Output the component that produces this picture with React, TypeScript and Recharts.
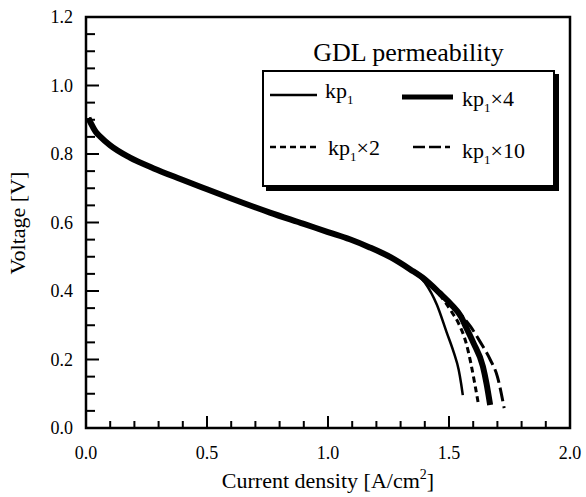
import React from 'react';
import { LineChart, Line, XAxis, YAxis, ReferenceArea } from 'recharts';

const FONT = '"Liberation Serif", "Times New Roman", Times, serif';

// shared part of all polarization curves (current density A/cm2, voltage V)
const baseCurrent = [0.01, 0.02, 0.04, 0.06, 0.1, 0.18, 0.28, 0.39, 0.5, 0.6, 0.76, 0.9, 1.0, 1.09, 1.17, 1.26, 1.34];
const baseVoltage = [0.905, 0.89, 0.865, 0.85, 0.825, 0.79, 0.758, 0.727, 0.697, 0.67, 0.629, 0.596, 0.572, 0.551, 0.528, 0.498, 0.463];

// mass transport tails for each GDL permeability
const kp1Current = [1.4, 1.45, 1.49, 1.52, 1.54, 1.55, 1.557];
const kp1Voltage = [0.425, 0.36, 0.28, 0.22, 0.17, 0.13, 0.096];
const kp2Current = [1.4, 1.46, 1.51, 1.54, 1.57, 1.59, 1.605, 1.62];
const kp2Voltage = [0.432, 0.39, 0.34, 0.305, 0.25, 0.19, 0.135, 0.076];
const kp4Current = [1.4, 1.46, 1.51, 1.55, 1.57, 1.6, 1.64, 1.655, 1.67];
const kp4Voltage = [0.434, 0.395, 0.36, 0.325, 0.295, 0.25, 0.18, 0.13, 0.067];
const kp10Current = [1.4, 1.46, 1.51, 1.55, 1.59, 1.63, 1.67, 1.7, 1.728];
const kp10Voltage = [0.435, 0.397, 0.362, 0.33, 0.295, 0.25, 0.2, 0.15, 0.058];

const xTicks = [0, 0.1, 0.2, 0.3, 0.4, 0.5, 0.6, 0.7, 0.8, 0.9, 1, 1.1, 1.2, 1.3, 1.4, 1.5, 1.6, 1.7, 1.8, 1.9, 2];
const yTicks = [0, 0.05, 0.1, 0.15, 0.2, 0.25, 0.3, 0.35, 0.4, 0.45, 0.5, 0.55, 0.6, 0.65, 0.7, 0.75, 0.8, 0.85, 0.9, 0.95, 1, 1.05, 1.1, 1.15, 1.2];

const toPoints = (xs: number[], vs: number[]) => xs.map((x, i) => ({ x, v: vs[i] }));

const series = [
  { key: 'kp1', suffix: '', current: kp1Current, voltage: kp1Voltage, width: 2.5, dash: undefined, legendDash: undefined },
  { key: 'kp4', suffix: '×4', current: kp4Current, voltage: kp4Voltage, width: 6, dash: undefined, legendDash: undefined },
  { key: 'kp2', suffix: '×2', current: kp2Current, voltage: kp2Voltage, width: 3, dash: '6 4', legendDash: '6 4' },
  { key: 'kp10', suffix: '×10', current: kp10Current, voltage: kp10Voltage, width: 3, dash: '14 5', legendDash: '12 4' },
].map(s => ({
  ...s,
  data: [...toPoints(baseCurrent, baseVoltage), ...toPoints(s.current, s.voltage)],
}));

// legend placement inside the box (px in chart coords)
const legendPos: Record<string, { lx: number; ly: number; lw: number; tx: number; ty: number }> = {
  kp1: { lx: 270, ly: 95, lw: 47, tx: 325, ty: 98 },
  kp4: { lx: 402, ly: 97, lw: 51, tx: 462, ty: 106 },
  kp2: { lx: 270, ly: 147, lw: 48, tx: 328, ty: 155 },
  kp10: { lx: 413, ly: 147, lw: 37, tx: 462, ty: 158 },
};

const isMajor = (v: number, step: number) => Math.abs(v / step - Math.round(v / step)) < 1e-6;

const textStyle = { fontFamily: FONT, fontSize: 18, fill: '#000' };

const BottomTick = (props: any) => {
  const { x, y, payload } = props;
  const major = isMajor(payload.value, 0.5);
  return (
    <g>
      <line x1={x} y1={y} x2={x} y2={y - (major ? 12 : 7)} stroke="#000" strokeWidth={2} />
      {major && (
        <text x={x} y={y + 31} textAnchor="middle" style={textStyle}>
          {payload.value.toFixed(1)}
        </text>
      )}
    </g>
  );
};

const TopTick = (props: any) => {
  const { x, y, payload } = props;
  const major = isMajor(payload.value, 0.5);
  return <line x1={x} y1={y} x2={x} y2={y + (major ? 12 : 7)} stroke="#000" strokeWidth={2} />;
};

const LeftTick = (props: any) => {
  const { x, y, payload } = props;
  const major = isMajor(payload.value, 0.2);
  return (
    <g>
      <line x1={x} y1={y} x2={x + (major ? 13 : 9)} y2={y} stroke="#000" strokeWidth={2} />
      {major && (
        <text x={x - 13} y={y + 6} textAnchor="end" style={textStyle}>
          {payload.value.toFixed(1)}
        </text>
      )}
    </g>
  );
};

const RightTick = (props: any) => {
  const { x, y, payload } = props;
  const major = isMajor(payload.value, 0.2);
  return <line x1={x} y1={y} x2={x - (major ? 13 : 9)} y2={y} stroke="#000" strokeWidth={2} />;
};

const KpLabel = ({ suffix }: { suffix: string }) => (
  <span>
    kp<sub style={{ fontSize: 13, verticalAlign: 'baseline', position: 'relative', top: 6 }}>1</sub>
    {suffix}
  </span>
);

export default function App() {
  return (
    <div style={{ position: 'absolute', left: 0, top: 0, width: 586, height: 497, background: '#fff', fontFamily: FONT }}>
      <LineChart width={586} height={497} margin={{ top: 17, right: 16, left: 0, bottom: 0 }}>
        <XAxis
          dataKey="x"
          type="number"
          domain={[0, 2]}
          ticks={xTicks}
          interval={0}
          height={69}
          tickSize={0}
          tickMargin={0}
          tickLine={false}
          tick={BottomTick}
          axisLine={false}
          allowDataOverflow
        />
        <XAxis
          xAxisId="top"
          orientation="top"
          type="number"
          domain={[0, 2]}
          ticks={xTicks}
          interval={0}
          height={0}
          tickSize={0}
          tickMargin={0}
          tickLine={false}
          tick={TopTick}
          axisLine={false}
          allowDataOverflow
        />
        <YAxis
          type="number"
          domain={[0, 1.2]}
          ticks={yTicks}
          interval={0}
          width={86}
          tickSize={0}
          tickMargin={0}
          tickLine={false}
          tick={LeftTick}
          axisLine={false}
          allowDataOverflow
        />
        <YAxis
          yAxisId="right"
          orientation="right"
          type="number"
          domain={[0, 1.2]}
          ticks={yTicks}
          interval={0}
          width={0}
          tickSize={0}
          tickMargin={0}
          tickLine={false}
          tick={RightTick}
          axisLine={false}
          allowDataOverflow
        />
        {/* plot frame */}
        <ReferenceArea
          x1={0}
          x2={2}
          y1={0}
          y2={1.2}
          fill="none"
          fillOpacity={0}
          stroke="#000"
          strokeWidth={2.5}
          strokeOpacity={1}
          ifOverflow="visible"
        />
        {series.map(s => (
          <Line
            key={s.key}
            data={s.data}
            dataKey="v"
            type="monotone"
            stroke="#000"
            strokeWidth={s.width}
            strokeDasharray={s.dash}
            dot={false}
            activeDot={false}
            isAnimationActive={false}
          />
        ))}
      </LineChart>

      {/* axis titles */}
      <div style={{ position: 'absolute', left: 86, width: 484, top: 468, textAlign: 'center', fontSize: 22, lineHeight: '26px' }}>
        Current density [A/cm<sup style={{ fontSize: 14, verticalAlign: 'baseline', position: 'relative', top: -9 }}>2</sup>]
      </div>
      <div
        style={{
          position: 'absolute',
          left: 18 - 70,
          top: 223 - 13,
          width: 140,
          height: 26,
          lineHeight: '26px',
          textAlign: 'center',
          fontSize: 22,
          transform: 'rotate(-90deg)',
        }}
      >
        Voltage [V]
      </div>

      {/* legend */}
      <div style={{ position: 'absolute', left: 262, width: 293, top: 38, textAlign: 'center', fontSize: 26, lineHeight: '30px' }}>
        GDL permeability
      </div>
      <div
        style={{
          position: 'absolute',
          left: 262,
          top: 70,
          width: 289,
          height: 113,
          border: '2px solid #000',
          boxShadow: '4px 4px 0 #000',
          background: '#fff',
        }}
      />
      {series.map(s => {
        const p = legendPos[s.key];
        return (
          <React.Fragment key={s.key}>
            <svg style={{ position: 'absolute', left: p.lx, top: p.ly - 5 }} width={p.lw} height={10}>
              <line x1={0} y1={5} x2={p.lw} y2={5} stroke="#000" strokeWidth={s.width === 6 ? 5 : 2.5} strokeDasharray={s.legendDash} />
            </svg>
            <div style={{ position: 'absolute', left: p.tx, top: p.ty - 20, fontSize: 22, lineHeight: '26px', whiteSpace: 'nowrap' }}>
              <KpLabel suffix={s.suffix} />
            </div>
          </React.Fragment>
        );
      })}
    </div>
  );
}
